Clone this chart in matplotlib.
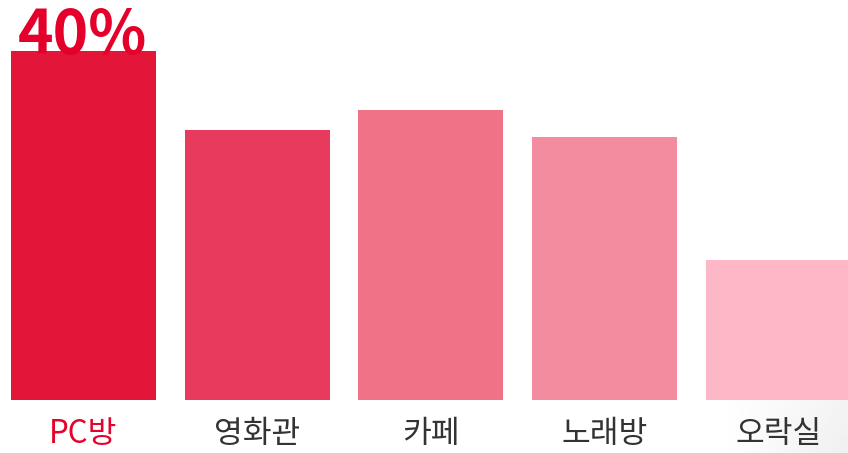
import matplotlib
matplotlib.use("Agg")
import matplotlib.pyplot as plt
import numpy as np

# data
places = ['PC방', '영화관', '카페', '노래방', '오락실']
shares = [40, 31, 33.3, 30.2, 16]
bar_colors = ['#E3163A', '#E73A5C', '#EF7287', '#F28C9E', '#FEB7C7']
top_label = '40%'

plt.rcParams['font.family'] = ['Noto Sans CJK KR', 'DejaVu Sans']

fig = plt.figure(figsize=(8.48, 4.53), dpi=100)
fig.patch.set_facecolor('white')

# faint grey shading in the bottom-right corner
bg = fig.add_axes([0, 0, 1, 1], zorder=0)
gx, gy = np.meshgrid(np.linspace(0, 1, 300), np.linspace(0, 1, 200))
shade = np.clip((gx - 0.85) / 0.15, 0, 1) * np.clip((0.45 - gy) / 0.45, 0, 1)
bg.imshow(1 - 0.06 * shade, cmap='gray', vmin=0, vmax=1, extent=[0, 1, 0, 1],
          origin='lower', aspect='auto')
bg.axis('off')

ax = fig.add_axes([0, 1 - 400 / 453, 1, 400 / 453], zorder=1)
ax.patch.set_alpha(0)
x = np.arange(len(places))
ax.bar(x, shares, width=0.834, color=bar_colors, zorder=2)
ax.set_xlim(-0.479, 4.40)
ax.set_ylim(0, 400 / 8.72)
ax.axis('off')

for i, name in enumerate(places):
    ax.text(x[i], -3.95, name, ha='center', va='center', fontsize=22.5,
            color='#E4032D' if i == 0 else '#333333', fontweight='normal')

ax.text(x[0] - 0.375, shares[0] - 0.35, top_label, ha='left', va='baseline',
        fontsize=43.5, fontweight='bold', color='#E4002B', zorder=3)

fig.savefig('out.png', dpi=100)
